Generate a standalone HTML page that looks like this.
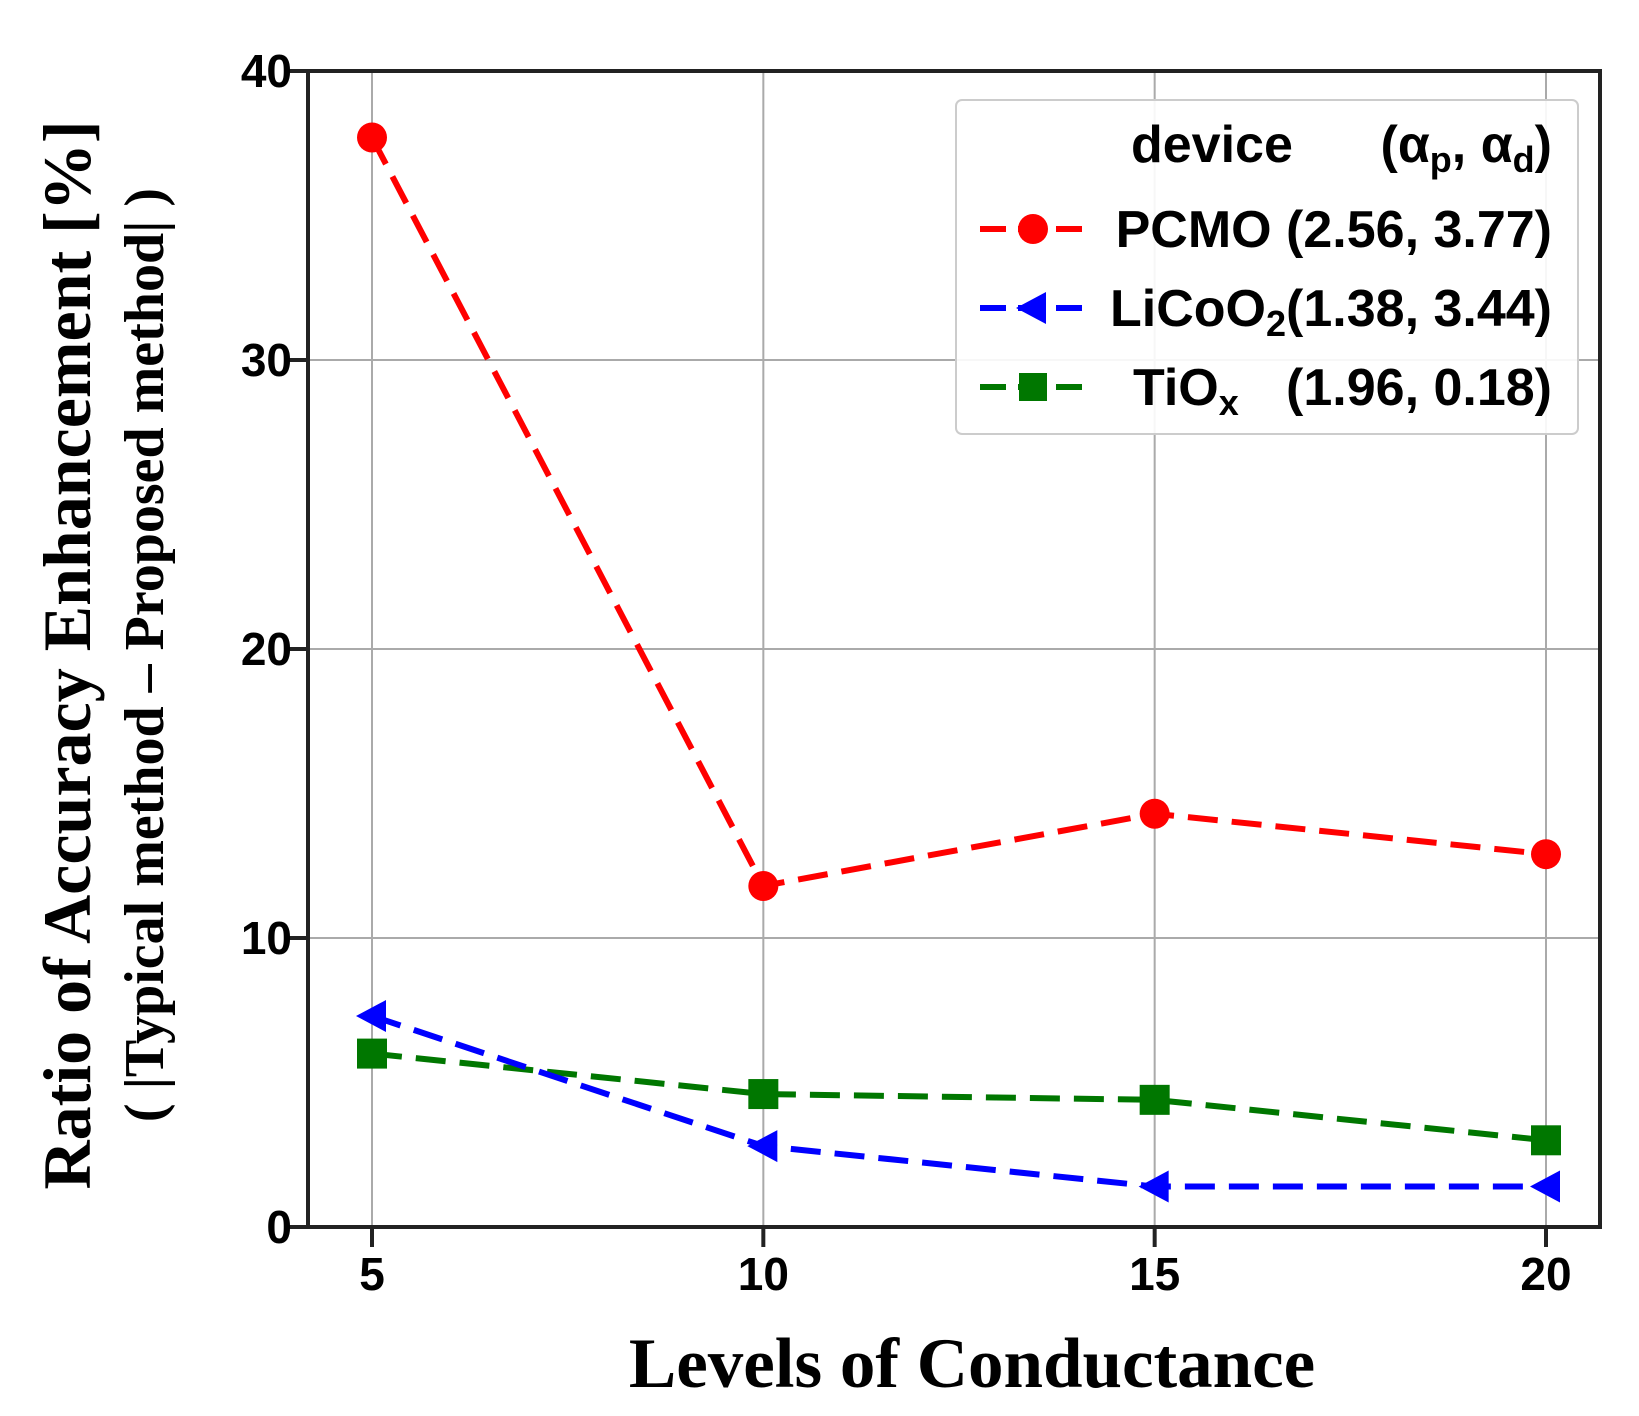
<!DOCTYPE html>
<html><head><meta charset="utf-8"><style>
html,body{margin:0;padding:0;background:#fff;}
svg{display:block;}
</style></head><body>
<svg id="chart" width="1639" height="1416" xmlns="http://www.w3.org/2000/svg">
<g id="grid"></g>
<g id="series"></g>
<rect x="308" y="71" width="1292" height="1156" fill="none" stroke="#222" stroke-width="4"/>
<g id="ticks"></g>
<text x="0" y="0" transform="translate(90,655) rotate(-90)" text-anchor="middle" font-family="Liberation Serif, serif" font-weight="bold" font-size="68">Ratio of Accuracy Enhancement [%]</text>
<text x="0" y="0" transform="translate(163,655) rotate(-90)" text-anchor="middle" font-family="Liberation Serif, serif" font-weight="bold" font-size="56">( |Typical method – Proposed method| )</text>
<text x="972" y="1387" text-anchor="middle" font-family="Liberation Serif, serif" font-weight="bold" font-size="71">Levels of Conductance</text>
<g font-family="Liberation Sans, sans-serif" font-size="52" font-weight="bold">
<rect x="956" y="100" width="622" height="334" rx="6" fill="#fff" fill-opacity="0.9" stroke="#ccc" stroke-width="2"/>
<text x="1131" y="162">device</text>
<text x="1552" y="162" text-anchor="end">(α<tspan font-size="36" dy="10">p</tspan><tspan dy="-10">, α</tspan><tspan font-size="36" dy="10">d</tspan><tspan dy="-10">)</tspan></text>
<g>
<line x1="980" y1="229" x2="1085" y2="229" stroke="#f00" stroke-width="6" stroke-dasharray="26,12"/>
<circle cx="1033" cy="229" r="15" fill="#f00"/>
<text x="1552" y="247" text-anchor="end">PCMO (2.56, 3.77)</text></g>
<g>
<line x1="980" y1="308" x2="1085" y2="308" stroke="#00f" stroke-width="6" stroke-dasharray="26,12"/>
<polygon points="1016,308 1046,292 1046,324" fill="#00f"/>
<text x="1552" y="326" text-anchor="end">LiCoO<tspan font-size="36" dy="10">2</tspan><tspan dy="-10">(1.38, 3.44)</tspan></text></g>
<g>
<line x1="980" y1="387" x2="1085" y2="387" stroke="#070" stroke-width="6" stroke-dasharray="26,12"/>
<rect x="1019" y="373" width="28" height="28" fill="#070"/>
<text x="1133" y="405">TiO<tspan font-size="36" dy="10">x</tspan></text>
<text x="1552" y="405" text-anchor="end">(1.96, 0.18)</text></g>
</g>
</svg>
<script>
const xCats = [5, 10, 15, 20];
const pcmo = [37.7, 11.8, 14.3, 12.9];
const licoo2 = [7.3, 2.8, 1.4, 1.4];
const tiox = [6.0, 4.6, 4.4, 3.0];
const yTicks = [0, 10, 20, 30, 40];
const NS = "http://www.w3.org/2000/svg";
function xs(v){ return 372 + (v - 5) * (1546 - 372) / 15; }
function ys(v){ return 1227 - v * (1227 - 71) / 40; }
function mk(tag, attrs, parent){ const e = document.createElementNS(NS, tag); for (const k in attrs) e.setAttribute(k, attrs[k]); parent.appendChild(e); return e; }
const grid = document.getElementById('grid'), ticks = document.getElementById('ticks'), ser = document.getElementById('series');
yTicks.forEach(t => {
  const y = ys(t);
  if (t > 0 && t < 40) { const g = mk('line', {x1:308, x2:1600, y1:y, y2:y, stroke:'#aaa', 'stroke-width':2}, grid);
    
     }
  const tk = mk('line', {x1:288, x2:308, y1:y, y2:y, stroke:'#222', 'stroke-width':4}, ticks);
  
  
  const tx = mk('text', {x:292, y:y+16, 'text-anchor':'end', 'font-family':'Liberation Sans, sans-serif', 'font-weight':'bold', 'font-size':46}, ticks);
  tx.textContent = t;
  
  
});
xCats.forEach(c => {
  const x = xs(c);
  const g = mk('line', {x1:x, x2:x, y1:71, y2:1227, stroke:'#aaa', 'stroke-width':2}, grid);
  
  
  const tk = mk('line', {x1:x, x2:x, y1:1227, y2:1247, stroke:'#222', 'stroke-width':4}, ticks);
  
  
  const tx = mk('text', {x:x, y:1290, 'text-anchor':'middle', 'font-family':'Liberation Sans, sans-serif', 'font-weight':'bold', 'font-size':46}, ticks);
  tx.textContent = c;
  
  
});
function drawSeries(vals, color, kind, name){
  const pts = vals.map((v,i) => xs(xCats[i]) + ',' + ys(v)).join(' ');
  const l = mk('polyline', {points:pts, fill:'none', stroke:color, 'stroke-width':6, 'stroke-dasharray':'30,14'}, ser);
  
  
  vals.forEach((v,i) => {
    const x = xs(xCats[i]), y = ys(v); let m;
    if (kind === 'circle') m = mk('circle', {cx:x, cy:y, r:15, fill:color}, ser);
    else if (kind === 'tri') m = mk('polygon', {points:(x-16)+','+y+' '+(x+14)+','+(y-16)+' '+(x+14)+','+(y+16), fill:color}, ser);
    else m = mk('rect', {x:x-15, y:y-15, width:30, height:30, fill:color}, ser);
    
    
  });
}
drawSeries(tiox, '#070', 'sq', 'tiox');
drawSeries(licoo2, '#00f', 'tri', 'licoo2');
drawSeries(pcmo, '#f00', 'circle', 'pcmo');
</script>
</body></html>
